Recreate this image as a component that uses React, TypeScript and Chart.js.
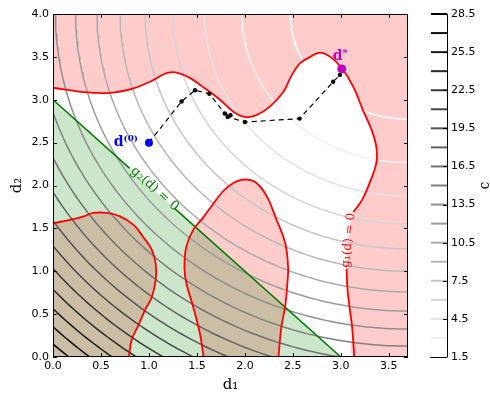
import React, { useEffect, useRef } from "react";
import { Chart, registerables } from "chart.js";

Chart.register(...registerables);

// ---------- data ----------
const D1_TICKS = [0, 0.5, 1.0, 1.5, 2.0, 2.5, 3.0, 3.5];
const D2_TICKS = [0, 0.5, 1.0, 1.5, 2.0, 2.5, 3.0, 3.5, 4.0];
const D1_MAX = 3.7;
const D2_MAX = 4.0;

// objective c = (d1 - 3.7)^2 + (d2 - 4)^2 ; its minimum sits at the top-right corner
const C_CENTER = [3.7, 4.0];
const C_LEVELS = [1.5, 3, 4.5, 6, 7.5, 9, 10.5, 12, 13.5, 15, 16.5, 18, 19.5, 21, 22.5, 24, 25.5, 27, 28.5];
const C_TICKS = [1.5, 4.5, 7.5, 10.5, 13.5, 16.5, 19.5, 22.5, 25.5, 28.5];

// g1(d) = 0 boundaries
const G1_UPPER_A: [number, number][] = [
  [0.0, 3.14], [0.31, 3.09], [0.59, 3.08], [0.83, 3.13], [1.01, 3.21], [1.22, 3.32], [1.4, 3.27],
  [1.56, 3.15], [1.74, 3.0], [1.88, 2.86], [2.0, 2.8], [2.12, 2.82], [2.26, 2.92], [2.4, 3.09],
  [2.48, 3.27], [2.57, 3.42], [2.68, 3.5], [2.78, 3.55], [2.89, 3.5], [3.01, 3.37], [3.13, 3.15],
  [3.23, 2.88], [3.32, 2.65], [3.37, 2.45], [3.37, 2.26], [3.3, 2.03], [3.22, 1.83], [3.13, 1.69],
];
const G1_UPPER_GAP: [number, number][] = [[3.08, 1.36]];
const G1_UPPER_B: [number, number][] = [
  [3.06, 1.03], [3.07, 0.78], [3.09, 0.59], [3.12, 0.32], [3.14, 0.0],
];
const G1_MID: [number, number][] = [
  [1.57, 0.0], [1.53, 0.28], [1.46, 0.59], [1.39, 0.86], [1.37, 1.05], [1.39, 1.29], [1.46, 1.48],
  [1.56, 1.62], [1.66, 1.77], [1.77, 1.93], [1.88, 2.03], [2.0, 2.07], [2.12, 2.03], [2.23, 1.87],
  [2.33, 1.6], [2.42, 1.33], [2.45, 1.05], [2.44, 0.82], [2.42, 0.59], [2.38, 0.35], [2.35, 0.0],
];
const G1_LOW: [number, number][] = [
  [0.0, 1.56], [0.18, 1.6], [0.32, 1.64], [0.42, 1.68], [0.56, 1.68], [0.7, 1.64], [0.84, 1.54],
  [0.94, 1.4], [1.03, 1.25], [1.07, 1.09], [1.07, 0.9], [1.03, 0.7], [0.96, 0.55], [0.89, 0.37],
  [0.82, 0.2], [0.79, 0.0],
];

// g2(d) = d1 + d2 - 3 = 0
const G2_A: [number, number][] = [[0.0, 3.0], [0.8, 2.2]];
const G2_B: [number, number][] = [[1.27, 1.73], [3.0, 0.0]];
const G2_REGION: [number, number][] = [[0.0, 3.0], [3.0, 0.0], [0.0, 0.0]];

// optimisation path
const PATH: [number, number][] = [
  [1.0, 2.5], [1.34, 2.98], [1.48, 3.11], [1.63, 3.07], [1.79, 2.84], [1.85, 2.82], [1.82, 2.8],
  [2.0, 2.74], [2.57, 2.78], [2.92, 3.21], [2.99, 3.29], [3.01, 3.36],
];
const D0: [number, number] = [1.0, 2.5];
const DSTAR: [number, number] = [3.01, 3.36];

const G2_LABEL_AT = [1.06, 1.96];
const G1_LABEL_AT = [3.08, 1.36];

// ---------- helpers ----------
const toXY = (pts: [number, number][]) => pts.map(([x, y]) => ({ x, y }));
const lvlMin = C_LEVELS[0];
const lvlMax = C_LEVELS[C_LEVELS.length - 1];
const grey = (L: number) => {
  const t = (L - lvlMin) / (lvlMax - lvlMin);
  const g = Math.round(255 * (1 - t));
  return `rgb(${g},${g},${g})`;
};
const levelSet = (L: number) => {
  const r = Math.sqrt(L);
  const pts: { x: number; y: number }[] = [];
  const n = 120;
  for (let i = 0; i <= n; i++) {
    const th = Math.PI + (Math.PI / 2) * (i / n);
    pts.push({ x: C_CENTER[0] + r * Math.cos(th), y: C_CENTER[1] + r * Math.sin(th) });
  }
  return pts;
};

const PINK = "rgba(255,0,0,0.2)";
const GREENF = "rgba(0,128,0,0.2)";
const RED = "#ff0000";
const GREEN = "#008000";
const SMOOTH = 0.4;

const line = (data: any[], color: string, width: number, order: number, extra: any = {}) => ({
  data,
  showLine: true,
  fill: false,
  borderColor: color,
  borderWidth: width,
  pointRadius: 0,
  order,
  clip: 0,
  ...extra,
});
const shape = (data: any[], color: string, order: number, tension = 0) => ({
  data,
  showLine: true,
  fill: "shape",
  backgroundColor: color,
  borderColor: "rgba(0,0,0,0)",
  borderWidth: 0,
  pointRadius: 0,
  tension,
  order,
  clip: 0,
});

const tickFont = { family: "DejaVu Sans", size: 11 };

const mainDecor = {
  id: "mainDecor",
  afterDraw(chart: any) {
    const { ctx, chartArea: a, scales } = chart;
    const X = (v: number) => scales.x.getPixelForValue(v);
    const Y = (v: number) => scales.y.getPixelForValue(v);
    ctx.save();
    ctx.strokeStyle = "#000";
    ctx.lineWidth = 1;
    ctx.beginPath();
    for (const v of D1_TICKS) {
      const px = Math.round(X(v)) + 0.5;
      ctx.moveTo(px, a.bottom);
      ctx.lineTo(px, a.bottom - 4);
      ctx.moveTo(px, a.top);
      ctx.lineTo(px, a.top + 4);
    }
    for (const v of D2_TICKS) {
      const py = Math.round(Y(v)) + 0.5;
      ctx.moveTo(a.left, py);
      ctx.lineTo(a.left + 4, py);
      ctx.moveTo(a.right, py);
      ctx.lineTo(a.right - 4, py);
    }
    ctx.stroke();
    ctx.strokeRect(a.left + 0.5, a.top + 0.5, a.right - a.left - 1, a.bottom - a.top - 1);

    // point labels
    ctx.fillStyle = "#0000ff";
    ctx.font = 'bold 14px "DejaVu Serif"';
    ctx.textAlign = "right";
    ctx.textBaseline = "middle";
    ctx.fillText("d\u207D\u2070\u207E", X(D0[0]) - 11, Y(D0[1]));

    ctx.fillStyle = "#bf00bf";
    ctx.textAlign = "left";
    ctx.textBaseline = "alphabetic";
    ctx.font = 'bold 14px "DejaVu Serif"';
    const sx = X(DSTAR[0]) - 9;
    const sy = Y(DSTAR[1]) - 9;
    ctx.fillText("d", sx, sy);
    const w = ctx.measureText("d").width;
    ctx.font = 'bold 10px "DejaVu Serif"';
    ctx.fillText("*", sx + w, sy - 4);

    // contour labels
    ctx.save();
    ctx.translate(X(G2_LABEL_AT[0]), Y(G2_LABEL_AT[1]));
    ctx.rotate(Math.atan2(Y(0) - Y(3), X(3) - X(0)));
    ctx.fillStyle = GREEN;
    ctx.font = '13px "DejaVu Serif"';
    ctx.textAlign = "center";
    ctx.textBaseline = "middle";
    ctx.fillText("g\u2082(d) = 0", 0, 0);
    ctx.restore();

    ctx.save();
    ctx.translate(X(G1_LABEL_AT[0]), Y(G1_LABEL_AT[1]));
    ctx.rotate((-84 * Math.PI) / 180);
    ctx.fillStyle = RED;
    ctx.font = '12px "DejaVu Serif"';
    ctx.textAlign = "center";
    ctx.textBaseline = "middle";
    ctx.fillText("g\u2081(d) = 0", 0, 0);
    ctx.restore();

    // axis titles
    ctx.fillStyle = "#000";
    ctx.font = '15px "DejaVu Serif"';
    ctx.textAlign = "center";
    ctx.textBaseline = "alphabetic";
    ctx.fillText("d\u2081", (a.left + a.right) / 2, 389);
    ctx.save();
    ctx.translate(21, (a.top + a.bottom) / 2);
    ctx.rotate(-Math.PI / 2);
    ctx.fillText("d\u2082", 0, 0);
    ctx.restore();
    ctx.restore();
  },
};

const barDecor = {
  id: "barDecor",
  afterDraw(chart: any) {
    const { ctx, chartArea: a, scales } = chart;
    const Y = (v: number) => scales.y.getPixelForValue(v);
    ctx.save();
    ctx.strokeStyle = "#000";
    ctx.lineWidth = 1;
    ctx.beginPath();
    ctx.moveTo(a.right + 0.5, a.top);
    ctx.lineTo(a.right + 0.5, a.bottom + 0.5);
    for (const v of C_TICKS) {
      const py = Math.round(Y(v)) + 0.5;
      ctx.moveTo(a.right, py);
      ctx.lineTo(a.right - 4, py);
    }
    ctx.moveTo(a.left - 1, Math.round(a.bottom) + 0.5);
    ctx.lineTo(a.right, Math.round(a.bottom) + 0.5);
    ctx.stroke();
    ctx.fillStyle = "#000";
    ctx.font = '14px "DejaVu Serif"';
    ctx.textAlign = "center";
    ctx.textBaseline = "alphabetic";
    ctx.translate(489, (a.top + a.bottom) / 2);
    ctx.rotate(-Math.PI / 2);
    ctx.fillText("c", 0, 0);
    ctx.restore();
  },
};

function mainConfig(): any {
  const datasets: any[] = [
    shape(
      toXY([...G1_UPPER_A, ...G1_UPPER_GAP, ...G1_UPPER_B, [D1_MAX, 0], [D1_MAX, D2_MAX], [0, D2_MAX]]),
      PINK,
      20,
      SMOOTH
    ),
    shape(toXY(G1_MID), PINK, 20, SMOOTH),
    shape(toXY([...G1_LOW, [0, 0]]), PINK, 20, SMOOTH),
    shape(toXY(G2_REGION), GREENF, 19),
    ...C_LEVELS.map((L) => line(levelSet(L), grey(L), 1.5, 10)),
    line(toXY(G1_UPPER_A), RED, 1.8, 5, { tension: SMOOTH }),
    line(toXY(G1_UPPER_B), RED, 1.8, 5, { tension: SMOOTH }),
    line(toXY(G1_MID), RED, 1.8, 5, { tension: SMOOTH }),
    line(toXY(G1_LOW), RED, 1.8, 5, { tension: SMOOTH }),
    line(toXY(G2_A), GREEN, 1.6, 5),
    line(toXY(G2_B), GREEN, 1.6, 5),
    line(toXY(PATH), "#000", 1.2, 3, {
      borderDash: [5, 4],
      pointRadius: 2.2,
      pointBackgroundColor: "#000",
      pointBorderWidth: 0,
    }),
    {
      data: toXY([D0]),
      pointRadius: 4,
      pointBackgroundColor: "#0000ff",
      pointBorderWidth: 0,
      order: 1,
      clip: false,
    },
    {
      data: toXY([DSTAR]),
      pointRadius: 4.5,
      pointBackgroundColor: "#bf00bf",
      pointBorderWidth: 0,
      order: 1,
      clip: false,
    },
  ];
  return {
    type: "scatter",
    data: { datasets },
    options: {
      responsive: false,
      devicePixelRatio: 1,
      animation: false,
      events: [],
      layout: { padding: { left: 0, right: 82, top: 14, bottom: 0 }, autoPadding: false },
      plugins: { legend: { display: false }, tooltip: { enabled: false } },
      scales: {
        x: {
          type: "linear",
          min: 0,
          max: D1_MAX,
          afterBuildTicks: (s: any) => {
            s.ticks = D1_TICKS.map((v) => ({ value: v }));
          },
          afterFit: (s: any) => {
            s.height = 37;
          },
          grid: { display: false, drawTicks: false },
          border: { display: false },
          ticks: {
            callback: (v: any) => Number(v).toFixed(1),
            font: tickFont,
            color: "#000",
            padding: 3,
            autoSkip: false,
            maxRotation: 0,
          },
        },
        y: {
          type: "linear",
          min: 0,
          max: D2_MAX,
          afterBuildTicks: (s: any) => {
            s.ticks = D2_TICKS.map((v) => ({ value: v }));
          },
          afterFit: (s: any) => {
            s.width = 53;
          },
          grid: { display: false, drawTicks: false },
          border: { display: false },
          ticks: {
            callback: (v: any) => Number(v).toFixed(1),
            font: tickFont,
            color: "#000",
            padding: 4,
            autoSkip: false,
          },
        },
      },
    },
    plugins: [mainDecor],
  };
}

function barConfig(): any {
  const datasets = C_LEVELS.map((L) => ({
    data: [
      { x: 0, y: L },
      { x: 1, y: L },
    ],
    showLine: true,
    fill: false,
    borderColor: grey(L),
    borderWidth: 2,
    pointRadius: 0,
    clip: false,
  }));
  return {
    type: "scatter",
    data: { datasets },
    options: {
      responsive: false,
      devicePixelRatio: 1,
      animation: false,
      events: [],
      layout: { padding: { left: 431, right: 0, top: 14, bottom: 37 }, autoPadding: false },
      plugins: { legend: { display: false }, tooltip: { enabled: false } },
      scales: {
        x: { type: "linear", min: 0, max: 1, display: false },
        y: {
          type: "linear",
          position: "right",
          min: lvlMin,
          max: lvlMax,
          afterBuildTicks: (s: any) => {
            s.ticks = C_TICKS.map((v) => ({ value: v }));
          },
          afterFit: (s: any) => {
            s.width = 43;
          },
          grid: { display: false, drawTicks: false },
          border: { display: false },
          ticks: {
            callback: (v: any) => Number(v).toFixed(1),
            font: tickFont,
            color: "#000",
            padding: 4,
            autoSkip: false,
          },
        },
      },
    },
    plugins: [barDecor],
  };
}

export default function App() {
  const mainRef = useRef<HTMLCanvasElement>(null);
  const barRef = useRef<HTMLCanvasElement>(null);
  useEffect(() => {
    const main = new Chart(mainRef.current as HTMLCanvasElement, mainConfig());
    const bar = new Chart(barRef.current as HTMLCanvasElement, barConfig());
    return () => {
      main.destroy();
      bar.destroy();
    };
  }, []);
  const cs: React.CSSProperties = { position: "absolute", left: 0, top: 0, width: 490, height: 394 };
  return (
    <div style={{ position: "absolute", left: 0, top: 0, width: 490, height: 394, background: "#fff" }}>
      <canvas ref={mainRef} width={490} height={394} style={cs} />
      <canvas ref={barRef} width={490} height={394} style={cs} />
    </div>
  );
}
